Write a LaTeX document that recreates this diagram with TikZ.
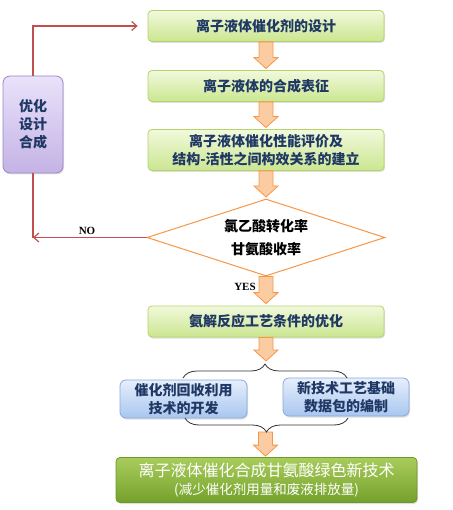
\documentclass[tikz,border=0pt]{standalone}
\usepackage{fontspec}
\newfontfamily\cjk{Noto Sans CJK SC}
\newfontfamily\tms{Liberation Serif}
\usetikzlibrary{shapes.geometric,decorations.pathreplacing,arrows.meta,shadows,calc}
\definecolor{navy}{HTML}{1F3864}
\definecolor{gtop}{HTML}{F1F9DC}
\definecolor{gbot}{HTML}{CBE690}
\definecolor{gline}{HTML}{B3D46A}
\definecolor{ftop}{HTML}{A9CD5C}
\definecolor{fbot}{HTML}{74A02B}
\definecolor{fline}{HTML}{6E9828}
\definecolor{ptop}{HTML}{E9E2FA}
\definecolor{pbot}{HTML}{C4B3E5}
\definecolor{pline}{HTML}{9A86C8}
\definecolor{btop}{HTML}{E6EFFC}
\definecolor{bbot}{HTML}{A9C6EF}
\definecolor{bline}{HTML}{88AADD}
\definecolor{ofill}{HTML}{FBCBA2}
\definecolor{oline}{HTML}{F79646}
\definecolor{redl}{HTML}{C0504D}
\newcommand{\orangearrow}[2]{%
  \path let \p1=(#1), \p2=(#2) in
    [fill=ofill, draw=oline, line width=0.8pt, line join=miter]
    (\x1-7pt,\y1) -- (\x1+7pt,\y1) -- (\x1+7pt,\y2+11pt) -- (\x1+12pt,\y2+11pt)
    -- (\x1,\y2) -- (\x1-12pt,\y2+11pt) -- (\x1-7pt,\y2+11pt) -- cycle;}
\begin{document}
\begin{tikzpicture}[x=1pt,y=-1pt,
  base/.style={rounded corners=4pt, align=center, inner sep=0pt, line width=0.8pt,
    drop shadow={opacity=0.25, shadow xshift=1pt, shadow yshift=-1.5pt}},
  greenbox/.style={base, top color=gtop, bottom color=gbot, draw=gline,
    minimum width=236pt, text=navy, font=\cjk\bfseries\fontsize{14}{18}\selectfont},
  finalbox/.style={base, top color=ftop, bottom color=fbot, draw=fline,
    minimum width=301pt, minimum height=45pt, text=white},
  purplebox/.style={base, rounded corners=7pt, top color=ptop, bottom color=pbot, draw=pline,
    minimum width=60pt, minimum height=97pt, text=navy, font=\cjk\bfseries\fontsize{14}{18}\selectfont},
  bluebox/.style={base, rounded corners=6pt, top color=btop, bottom color=bbot, draw=bline,
    minimum width=127pt, minimum height=38pt, text=navy, font=\cjk\bfseries\fontsize{14}{18}\selectfont},
  decision/.style={diamond, aspect=3.1, draw=oline, fill=white, line width=1pt,
    minimum width=238pt, minimum height=77pt, inner sep=0pt, align=center,
    font=\cjk\bfseries\fontsize{14}{23}\selectfont},
  redline/.style={draw=redl, line width=1.2pt},
  bracestyle/.style={draw=black!80, line width=0.8pt, decorate,
    decoration={brace, amplitude=14pt}},
  lbl/.style={font=\tms\bfseries\fontsize{11}{12}\selectfont, inner sep=0pt}
]
\useasboundingbox (0,0) rectangle (452,510);

\node[greenbox, minimum height=31pt] (b1) at (266,26) {离子液体催化剂的设计};
\node[greenbox, minimum height=31pt] (b2) at (266,86) {离子液体的合成表征};
\node[greenbox, minimum height=41pt] (b3) at (266,150) {离子液体催化性能评价及\\结构-活性之间构效关系的建立};
\node[decision] (dia) at (266,237.5) {氯乙酸转化率\\甘氨酸收率};
\node[greenbox, minimum height=31pt] (b4) at (266,321.5) {氨解反应工艺条件的优化};
\node[bluebox] (bl) at (183.5,399) {催化剂回收利用\\技术的开发};
\node[bluebox, minimum width=126pt] (br) at (346,397) {新技术工艺基础\\数据包的编制};
\node[finalbox] (fin) at (266.5,480) {\cjk\fontsize{16}{20}\selectfont 离子液体催化合成甘氨酸绿色新技术\\[4pt]\cjk\fontsize{13.5}{16}\selectfont (减少催化剂用量和废液排放量)};
\node[purplebox] (opt) at (33,124.5) {优化\\设计\\合成};

% orange block arrows
\orangearrow{b1.south}{$(b2.north)+(0,-1.5)$}
\orangearrow{b2.south}{$(b3.north)+(0,-1.5)$}
\orangearrow{b3.south}{$(dia.north)+(0,-1.5)$}
\orangearrow{dia.south}{$(b4.north)+(0,-2)$}
\orangearrow{b4.south}{265.5,361}
\orangearrow{265.5,432}{$(fin.north)+(0,-1)$}

% braces
\coordinate (tl) at (183,378);
\coordinate (tr) at (347,378);
\coordinate (bll) at (185,418);
\coordinate (brr) at (348,418);
\draw[bracestyle] (tl) -- (tr);
\draw[bracestyle] (brr) -- (bll);

% feedback loop
\coordinate (nocorner) at (opt.south |- dia.west);
\draw[redline] (opt.south) -- (nocorner);
\draw[redline, -{Straight Barb[length=5pt,width=9pt]}] (dia.west) -- (nocorner);
\draw[redline, -{Straight Barb[length=5pt,width=9pt]}, shorten >=10pt] (opt.north) |- (b1.west);

\node[lbl] (no) at (87,231) {NO};
\node[lbl] (yes) at (245,287) {YES};
\end{tikzpicture}
\end{document}
